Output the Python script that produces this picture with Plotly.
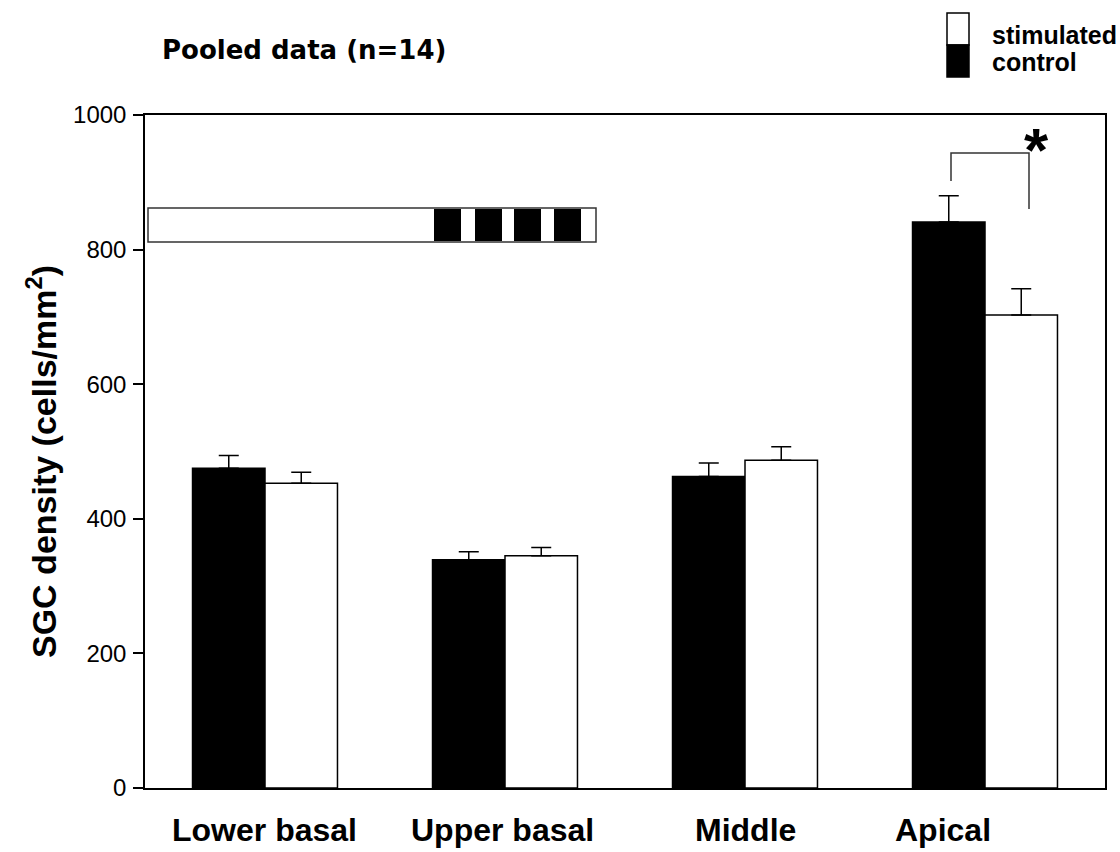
import plotly.graph_objects as go

# ---- data ----
categories = ["Lower basal", "Upper basal", "Middle", "Apical"]
control = [475, 339, 463, 841]
control_err = [19, 12, 20, 39]
stimulated = [453, 345, 487, 703]
stimulated_err = [16, 12.5, 20, 39]
y_ticks = [0, 200, 400, 600, 800, 1000]
title_text = "Pooled data (n=14)"
legend_labels = ["stimulated", "control"]
y_title = "SGC density (cells/mm<sup>2</sup>)"

# ---- layout geometry (pixels) ----
W, H = 1120, 852
L, R, T, B = 145, 1105, 115, 788


def px(x):
    return (x - L) / (R - L)


def py(y):
    return (B - y) / (B - T)


fig = go.Figure()
fig.add_trace(go.Bar(
    x=categories, y=control, name="control",
    marker=dict(color="black", line=dict(color="black", width=1.5)),
    error_y=dict(type="data", symmetric=False, array=control_err,
                 arrayminus=[0] * len(control_err),
                 color="black", thickness=1.5, width=10),
    showlegend=False,
))
fig.add_trace(go.Bar(
    x=categories, y=stimulated, name="stimulated",
    marker=dict(color="white", line=dict(color="black", width=1.5)),
    error_y=dict(type="data", symmetric=False, array=stimulated_err,
                 arrayminus=[0] * len(stimulated_err),
                 color="black", thickness=1.5, width=10),
    showlegend=False,
))

shapes = []
annotations = []

# electrode diagram
shapes.append(dict(type="rect", xref="paper", yref="paper",
                   x0=px(148), x1=px(596), y0=py(242), y1=py(208),
                   line=dict(color="#333", width=1.5), fillcolor="white"))
for x0 in [434, 475, 514, 554]:
    shapes.append(dict(type="rect", xref="paper", yref="paper",
                       x0=px(x0), x1=px(x0 + 27), y0=py(241), y1=py(209),
                       line=dict(width=0), fillcolor="black"))

# significance bracket
shapes.append(dict(type="path", xref="paper", yref="paper",
                   path=f"M {px(951)} {py(181)} L {px(951)} {py(153)} L {px(1029)} {py(153)} L {px(1029)} {py(209)}",
                   line=dict(color="#333", width=1.5)))
annotations.append(dict(text="<b>*</b>", xref="paper", yref="paper",
                        x=px(1036), y=py(149), showarrow=False,
                        xanchor="center", yanchor="middle",
                        font=dict(family="Liberation Sans", size=62, color="black")))

# legend boxes
shapes.append(dict(type="rect", xref="paper", yref="paper",
                   x0=px(947), x1=px(969), y0=py(45), y1=py(13),
                   line=dict(color="black", width=1.5), fillcolor="white"))
shapes.append(dict(type="rect", xref="paper", yref="paper",
                   x0=px(947), x1=px(969), y0=py(77), y1=py(45),
                   line=dict(color="black", width=1.5), fillcolor="black"))
for lab, yy in zip(legend_labels, [35, 62]):
    annotations.append(dict(text=f"<b>{lab}</b>", xref="paper", yref="paper",
                            x=px(990), y=py(yy), showarrow=False,
                            xanchor="left", yanchor="middle",
                            font=dict(family="Liberation Sans", size=25, color="black")))

# title
annotations.append(dict(text=f"<b>{title_text}</b>", xref="paper", yref="paper",
                        x=px(160), y=py(50), showarrow=False,
                        xanchor="left", yanchor="middle",
                        font=dict(family="DejaVu Sans", size=26, color="black")))

# y title
annotations.append(dict(text=f"<b>{y_title}</b>", xref="paper", yref="paper",
                        x=px(42), y=py(462), showarrow=False, textangle=-90,
                        xanchor="center", yanchor="middle",
                        font=dict(family="Liberation Sans", size=34, color="black")))

# category labels
label_px = [264, 502, 745, 943]
for cat, xx in zip(categories, label_px):
    annotations.append(dict(text=f"<b>{cat}</b>", xref="paper", yref="paper",
                            x=px(xx), y=py(830), showarrow=False,
                            xanchor="center", yanchor="middle",
                            font=dict(family="Liberation Sans", size=32, color="black")))

fig.update_layout(
    width=W, height=H,
    margin=dict(l=L, r=W - R, t=T, b=H - B, pad=0),
    paper_bgcolor="white", plot_bgcolor="white",
    barmode="group", bargap=0.396, bargroupgap=0,
    shapes=shapes, annotations=annotations,
    font=dict(family="Liberation Sans", color="black"),
)
fig.update_xaxes(type="category", range=[-0.5, 3.5], showline=True, mirror=True,
                 linecolor="black", linewidth=1.5, ticks="", showticklabels=False,
                 showgrid=False, zeroline=False)
fig.update_yaxes(range=[0, 1000], tickvals=y_ticks, showline=True, mirror=True,
                 linecolor="black", linewidth=1.5, ticks="outside", ticklen=10,
                 tickwidth=1.5, tickcolor="black", showgrid=False, zeroline=False,
                 tickfont=dict(family="Liberation Sans", size=24, color="black"),
                 ticklabelstandoff=2)

fig.write_html("out.html")
